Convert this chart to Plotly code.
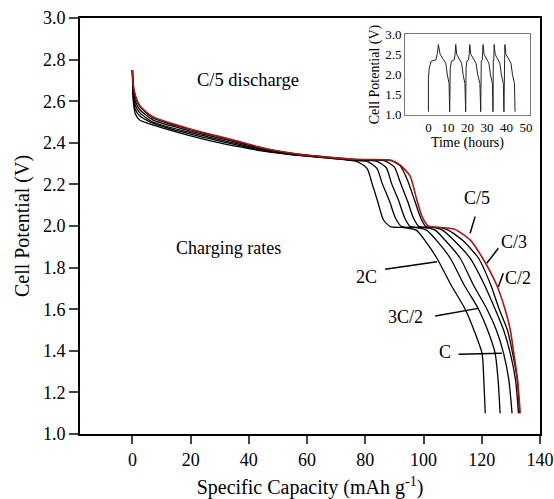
import plotly.graph_objects as go

# ---------------- data ----------------
rates = ["2C", "3C/2", "C", "C/2", "C/3", "C/5"]

cap_2C = [0, 0.3, 1, 2.5, 7, 19, 30, 37, 45, 55, 68, 77.1, 80.6, 82.3, 84.2, 86.2, 88.6,
          93, 97.5, 100.5, 104.6, 109.3, 114.3, 117.3, 120.1, 120.7, 121.2]
v_2C = [2.75, 2.60, 2.54, 2.51, 2.486, 2.437, 2.40, 2.38, 2.36, 2.342, 2.325, 2.31, 2.277, 2.205, 2.12, 2.03, 1.997,
        1.993, 1.98, 1.93, 1.845, 1.72, 1.6, 1.5, 1.388, 1.26, 1.1]

cap_3C2 = [0, 0.3, 1, 2.5, 7, 19, 30, 37, 45, 55, 68, 77, 80.8, 84, 85.8, 88.3, 90.3, 92.5,
           97, 101, 104.5, 109.2, 113.8, 118.9, 122, 124.6, 125.6, 126.3]
v_3C2 = [2.75, 2.62, 2.56, 2.53, 2.495, 2.445, 2.408, 2.386, 2.363, 2.343, 2.327, 2.314, 2.31, 2.277, 2.205, 2.12, 2.04, 1.997,
         1.993, 1.98, 1.93, 1.845, 1.72, 1.6, 1.5, 1.388, 1.26, 1.1]

cap_1C = [0, 0.3, 1, 2.5, 7, 19, 30, 37, 45, 55, 68, 77, 83.8, 87.2, 89, 91.5, 93.5, 95.5,
          100, 104, 107.5, 112.6, 117, 121.8, 125, 127.5, 129.3, 130.4]
v_1C = [2.75, 2.64, 2.58, 2.545, 2.50, 2.452, 2.415, 2.392, 2.367, 2.345, 2.328, 2.316, 2.312, 2.28, 2.205, 2.12, 2.04, 1.997,
        1.993, 1.98, 1.93, 1.845, 1.72, 1.6, 1.5, 1.388, 1.26, 1.1]

cap_C2 = [0, 0.3, 1, 2.5, 7, 19, 30, 37, 45, 55, 68, 77, 86.5, 90, 92, 94.5, 96.5, 98.5,
          103, 106.5, 110.5, 116, 120.8, 124.6, 127.5, 129.8, 131.6, 132.6]
v_C2 = [2.75, 2.66, 2.60, 2.56, 2.51, 2.46, 2.422, 2.398, 2.37, 2.347, 2.329, 2.318, 2.314, 2.283, 2.21, 2.12, 2.04, 1.997,
        1.993, 1.98, 1.93, 1.845, 1.72, 1.6, 1.5, 1.388, 1.26, 1.1]

cap_C3 = [0, 0.3, 1, 2.5, 7, 19, 30, 37, 45, 55, 68, 77, 88.5, 92, 94.5, 97, 99, 100.8,
          105, 108.5, 113.5, 118.9, 123, 126, 128.8, 130.6, 132.2, 133.0]
v_C3 = [2.75, 2.67, 2.62, 2.575, 2.52, 2.467, 2.428, 2.403, 2.373, 2.349, 2.33, 2.32, 2.316, 2.29, 2.22, 2.12, 2.04, 1.997,
        1.993, 1.98, 1.93, 1.845, 1.72, 1.6, 1.5, 1.388, 1.26, 1.1]

cap_C5 = [0, 0.3, 1, 2.5, 7, 19, 30, 37, 45, 55, 68, 77, 88.6, 92, 95.4, 97.7, 99.5, 101.6,
          106, 110.5, 116, 120.3, 125, 128, 129.8, 131, 132.3, 133.2]
v_C5 = [2.75, 2.68, 2.63, 2.58, 2.525, 2.47, 2.43, 2.405, 2.375, 2.35, 2.33, 2.32, 2.317, 2.293, 2.24, 2.125, 2.045, 2.0,
        1.993, 1.985, 1.933, 1.845, 1.72, 1.6, 1.5, 1.388, 1.26, 1.1]

caps = [cap_2C, cap_3C2, cap_1C, cap_C2, cap_C3, cap_C5]
volts = [v_2C, v_3C2, v_1C, v_C2, v_C3, v_C5]

# inset: cycling voltage vs time (one voltage profile per cycle, times per cycle)
cycle_volts = [1.08, 1.9, 2.15, 2.33, 2.36, 2.52, 2.74, 2.50, 2.40, 2.28, 1.99, 1.78, 1.08]
cycle_times = [
    [0, 0, 0.4, 1.4, 3.8, 4.6, 5.1, 6.0, 7.2, 8.9, 9.7, 10.6, 10.9],
    [10.9, 10.9, 11.2, 11.8, 13.3, 13.7, 14.0, 14.5, 15.5, 17.0, 17.8, 18.7, 19.1],
    [19.1, 19.1, 19.3, 19.7, 20.6, 20.9, 21.2, 21.7, 22.8, 24.4, 25.3, 26.4, 26.8],
    [26.8, 26.8, 26.9, 27.1, 27.6, 27.8, 28.0, 28.5, 29.5, 31.0, 31.8, 32.8, 33.1],
    [33.1, 33.1, 33.15, 33.25, 33.5, 33.6, 33.7, 34.2, 35.1, 36.6, 37.4, 38.4, 38.7],
    [38.7, 38.7, 38.75, 38.85, 39.05, 39.12, 39.2, 39.7, 40.7, 42.3, 43.1, 44.1, 44.4],
]

x_ticks = [0, 20, 40, 60, 80, 100, 120, 140]
y_ticks = [1.0, 1.2, 1.4, 1.6, 1.8, 2.0, 2.2, 2.4, 2.6, 2.8, 3.0]
inset_x_ticks = [0, 10, 20, 30, 40, 50]
inset_y_ticks = [1.0, 1.5, 2.0, 2.5, 3.0]

# rate labels: (text, text x, text y, leader x0, y0, x1, y1)
rate_labels = [
    ("C/5", 118.3, 2.133, 117.7, 2.045, 116.0, 1.965),
    ("C/3", 130.9, 1.925, 125.7, 1.893, 121.7, 1.821),
    ("C/2", 132.6, 1.749, 127.4, 1.773, 125.7, 1.708),
    ("2C", 80.5, 1.756, 86.8, 1.792, 104.6, 1.828),
    ("3C/2", 93.7, 1.562, 104.0, 1.567, 118.8, 1.604),
    ("C", 107.4, 1.396, 112.0, 1.383, 126.9, 1.388),
]

FONT = "Liberation Serif, Times New Roman, serif"

fig = go.Figure()
for name, cx, vy in zip(rates, caps, volts):
    fig.add_trace(go.Scatter(
        x=cx, y=vy, mode="lines", name=name,
        line=dict(color="#b01515" if name == "C/5" else "black",
                  width=1.6 if name == "C/5" else 1.3, shape="spline", smoothing=0.6),
        showlegend=False, hoverinfo="skip"))

inset_t = []
inset_v = []
for ts in cycle_times:
    inset_t += ts
    inset_v += cycle_volts
fig.add_trace(go.Scatter(x=inset_t, y=inset_v, mode="lines", xaxis="x2", yaxis="y2",
                         line=dict(color="#222222", width=1), showlegend=False,
                         hoverinfo="skip"))

shapes = []
annotations = []
for txt, tx, ty, x0, y0, x1, y1 in rate_labels:
    annotations.append(dict(x=tx, y=ty, xref="x", yref="y", text=txt, showarrow=False,
                            font=dict(family=FONT, size=18, color="black")))
    shapes.append(dict(type="line", xref="x", yref="y", x0=x0, y0=y0, x1=x1, y1=y1,
                       line=dict(color="black", width=1.5)))

annotations.append(dict(x=39.8, y=2.70, xref="x", yref="y", text="C/5 discharge",
                        showarrow=False, font=dict(family=FONT, size=18.5, color="black")))
annotations.append(dict(x=33.0, y=1.893, xref="x", yref="y", text="Charging rates",
                        showarrow=False, font=dict(family=FONT, size=18, color="black")))

fig.update_layout(
    width=554, height=499,
    margin=dict(l=80, r=14, t=18, b=65),
    paper_bgcolor="white", plot_bgcolor="white",
    font=dict(family=FONT, color="black"),
    shapes=shapes, annotations=annotations,
    xaxis=dict(range=[-18, 140], tickvals=x_ticks, ticks="outside", ticklen=8, tickwidth=1.5,
               showline=True, linecolor="black", linewidth=2, mirror=True, showgrid=False,
               zeroline=False, tickfont=dict(size=18, family=FONT), automargin=False,
               title=dict(text="Specific Capacity (mAh g<sup>-1</sup>)",
                          font=dict(size=20, family=FONT), standoff=21)),
    yaxis=dict(range=[1.0, 3.0], tickvals=y_ticks, tickformat=".1f", ticks="outside", ticklen=9,
               tickwidth=1.5, showline=True, linecolor="black", linewidth=2, mirror=True,
               showgrid=False, zeroline=False, tickfont=dict(size=18, family=FONT), automargin=False,
               title=dict(text="Cell Potential (V)", font=dict(size=20, family=FONT), standoff=8)),
    xaxis2=dict(domain=[0.7065, 0.978], anchor="y2", range=[-12, 52], tickvals=inset_x_ticks,
                ticks="", showline=True, linecolor="#777777", linewidth=1, mirror=True,
                showgrid=False, zeroline=False, tickfont=dict(size=13, family=FONT),
                title=dict(text="Time (hours)", font=dict(size=14, family=FONT), standoff=2)),
    yaxis2=dict(domain=[0.767, 0.9615], anchor="x2", range=[1.0, 3.0], tickvals=inset_y_ticks,
                tickformat=".1f", ticks="", showline=True, linecolor="#777777", linewidth=1,
                mirror=True, showgrid=False, zeroline=False, tickfont=dict(size=13, family=FONT),
                title=dict(text="Cell Potential (V)", font=dict(size=14, family=FONT), standoff=2)),
)

fig.write_html("out.html")
